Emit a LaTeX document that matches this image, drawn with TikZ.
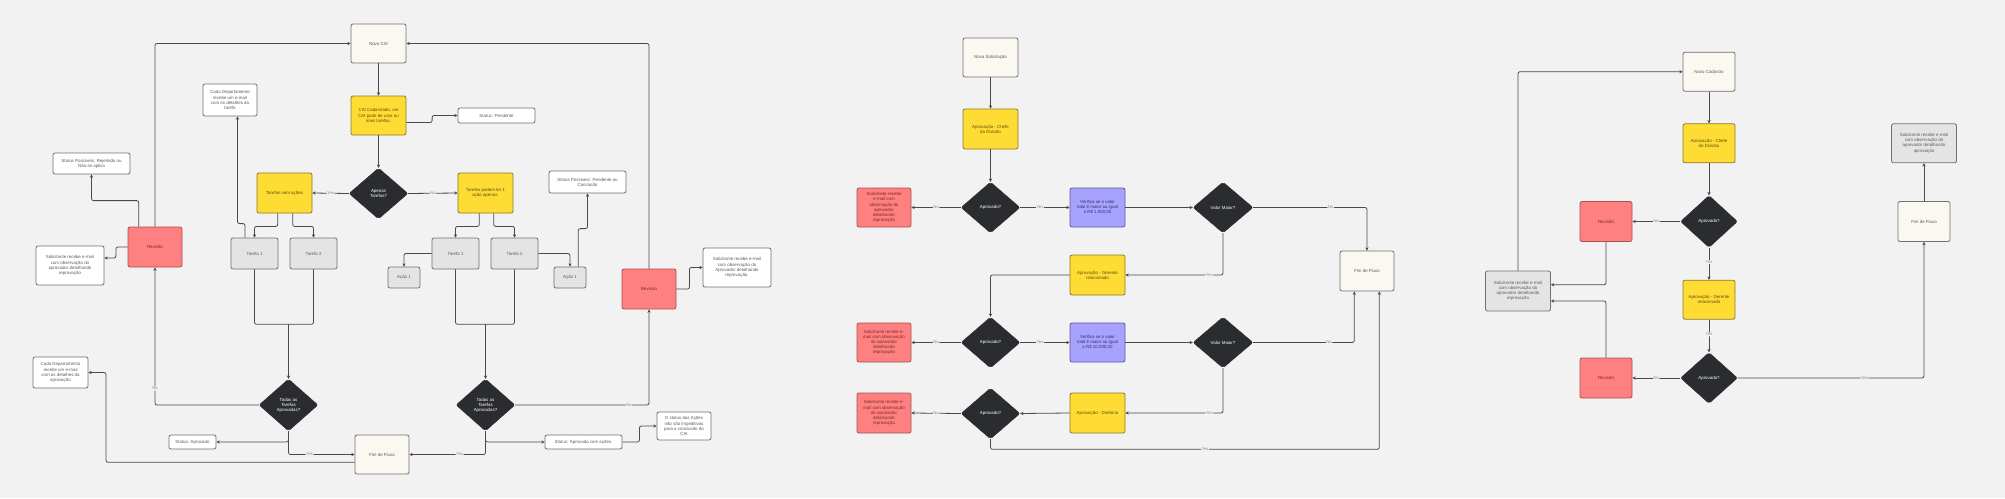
\documentclass[tikz,border=0pt]{standalone}
\usepackage{fontspec}
\setmainfont{Liberation Sans}
\usetikzlibrary{arrows.meta,shapes.geometric}
\definecolor{bg}{HTML}{F2F2F2}
\definecolor{linec}{HTML}{4A4A4A}
\definecolor{bordg}{HTML}{707070}
\definecolor{txtg}{HTML}{5A5A5A}
\definecolor{creamf}{HTML}{FBF8F2}
\definecolor{yelf}{HTML}{FFDC33}
\definecolor{yeld}{HTML}{8C7A2A}
\definecolor{yelt}{HTML}{5C4C10}
\definecolor{redf}{HTML}{FF8080}
\definecolor{redd}{HTML}{A85252}
\definecolor{redt}{HTML}{7A2828}
\definecolor{purf}{HTML}{A8A2FF}
\definecolor{purd}{HTML}{5E58A8}
\definecolor{purt}{HTML}{35306E}
\definecolor{grayf}{HTML}{E4E4E4}
\definecolor{diaf}{HTML}{2B2C30}
\definecolor{labc}{HTML}{8A8A8A}
\newcommand\myfs{\fontsize{4.4}{5.1}\selectfont}
\newcommand\mylabfs{\fontsize{4.2}{5}\selectfont}
\begin{document}
\begin{tikzpicture}[x=1pt,y=-1pt,
  base/.style={draw=bordg, line width=0.8pt, rounded corners=2pt, align=center, inner sep=1pt, font=\myfs, text=txtg},
  cream/.style={base, fill=creamf},
  whiteb/.style={base, fill=white},
  grayb/.style={base, fill=grayf},
  yel/.style={base, fill=yelf, draw=yeld, text=yelt},
  redb/.style={base, fill=redf, draw=redd, text=redt},
  purb/.style={base, fill=purf, draw=purd, text=purt},
  dia/.style={diamond, aspect=1, fill=diaf, draw=diaf, rounded corners=2pt, inner sep=0pt, align=center, font=\myfs, text=white},
  sz/.style 2 args={minimum width=#1pt, minimum height=#2pt},
  line/.style={draw=linec, line width=0.8pt, rounded corners=2pt},
  arr/.style={line, -{Stealth[length=3.3pt,width=3.3pt]}},
  lab/.style={fill=bg, text=labc, inner sep=0.6pt, font=\mylabfs}
]
\fill[bg] (0,0) rectangle (2005,498);
\useasboundingbox (0,0) rectangle (2005,498);

% ---------------- left diagram ----------------
\node[cream, sz={55}{39}] (nc) at (378.5,43.5) {Novo CAI};
\node[yel, sz={55}{39}] (cai) at (378.5,115.5) {CAI Cadastrado, um\\CAI pode ter uma ou\\mais tarefas.};
\node[dia, sz={59}{51}] (d1) at (378.5,193.5) {Apenas\\Tarefas?};
\node[yel, sz={55}{40}] (tsa) at (284.5,193) {Tarefas sem ações};
\node[grayb, sz={47}{31}] (t1l) at (254.5,253.5) {Tarefa 1};
\node[grayb, sz={47}{31}] (t2l) at (313.5,253.5) {Tarefa 2};
\node[whiteb, sz={54}{32}] (cdt) at (230,100) {Cada Departamento\\recebe um e-mail\\com os detalhes da\\tarefa};
\node[whiteb, sz={77}{21}] (spr) at (91.5,163.5) {Status Possíveis: Rejeitado ou\\Não se aplica};
\node[redb, sz={54}{40}] (rvl) at (155,247) {Revisão};
\node[whiteb, sz={68}{39}] (sol1) at (70,265.5) {Solicitante recebe e-mail\\com observação do\\aprovador detalhando\\reprovação};
\node[whiteb, sz={77}{15}] (stp) at (496.5,115.5) {Status: Pendente};
\node[yel, sz={55}{40}] (tpa) at (485.5,193) {Tarefas podem ter 1\\ação apenas.};
\node[grayb, sz={47}{31}] (t1r) at (455.5,253.5) {Tarefa 1};
\node[grayb, sz={47}{31}] (t2r) at (514.5,253.5) {Tarefa 2};
\node[grayb, sz={32}{21}] (a1l) at (404,277.5) {Ação 1};
\node[grayb, sz={32}{21}] (a1r) at (570,277.5) {Ação 1};
\node[whiteb, sz={77}{22}] (spc) at (587.5,182) {Status Possíveis: Pendente ou\\Concluído};
\node[redb, sz={54}{40}] (rvr) at (649,289) {Revisão};
\node[whiteb, sz={68}{39}] (solr) at (737,267.5) {Solicitante recebe e-mail\\com observação do\\Aprovador detalhando\\reprovação.};
\node[dia, sz={59}{52}] (d2l) at (288.5,405) {Todas as\\Tarefas\\Aprovadas?};
\node[dia, sz={59}{52}] (d2r) at (485.5,405) {Todas as\\Tarefas\\Aprovadas?};
\node[whiteb, sz={47}{14}] (sap) at (192.5,442) {Status: Aprovado};
\node[cream, sz={54}{39}] (ffl) at (382,454.5) {Fim de Fluxo};
\node[whiteb, sz={55}{31}] (cdap) at (60.5,372.5) {Cada Departamento\\recebe um e-mail\\com os detalhes da\\aprovação};
\node[whiteb, sz={77}{14}] (sac) at (583.5,442) {Status: Aprovado com ações.};
\node[whiteb, sz={54}{28}] (osd) at (684,426) {O status das Ações\\não são impeditivas\\para a conclusão do\\CAI};
\coordinate (m1) at (288.5,324.3);
\coordinate (m2) at (485.5,324.3);

\draw[arr] (nc.south) -- (cai.north);
\draw[arr] ([yshift=-7pt]cai.east) -- ++(25.7,0) |- (stp.west);
\draw[arr] (cai.south) -- (d1.north);
\draw[arr] (d1.west) -- node[lab]{Yes} (tsa.east);
\draw[arr] (d1.east) -- node[lab]{No} (tpa.west);
\draw[arr] ([xshift=-6.8pt]tsa.south) -- ++(0,13) -| (t1l.north);
\draw[arr] ([xshift=8.2pt]tsa.south) -- ++(0,13) -| (t2l.north);
\draw[arr] ([xshift=-9.5pt]t1l.north) -- ++(0,-14) -| ([xshift=7.5pt]cdt.south);
\draw[arr] ([xshift=-16.3pt]rvl.north) -- ++(0,-26) -| (spr.south);
\draw[arr] (rvl.west) -- ++(-11.7,0) |- ([yshift=7.5pt]sol1.east);
\draw[arr] (rvl.north) |- (nc.west);
\draw[arr] ([xshift=-6.2pt]tpa.south) -- ++(0,13) -| (t1r.north);
\draw[arr] ([xshift=8.2pt]tpa.south) -- ++(0,13) -| (t2r.north);
\draw[arr] (t1r.west) -| (a1l.north);
\draw[arr] (t2r.east) -| (a1r.north);
\draw[arr] ([xshift=8.3pt]a1r.north) -- ++(0,-38) -| (spc.south);
\draw[line] (t1l.south) |- (m1);
\draw[line] (t2l.south) |- (m1);
\draw[arr] (m1) -- (d2l.north);
\draw[line] (t1r.south) |- (m2);
\draw[line] (t2r.south) |- (m2);
\draw[arr] (m2) -- (d2r.north);
\draw[arr] (d2l.west) -| node[lab,pos=0.56]{No} (rvl.south);
\draw[arr] (d2l.south) |- (sap.east);
\draw[arr] (d2l.south) |- node[lab,pos=0.66]{Yes} (ffl.west);
\draw[arr] ([yshift=-7.8pt]ffl.west) -| ([xshift=17.6pt]cdap.east) -- (cdap.east);
\draw[arr] (d2r.east) -| node[lab,pos=0.425]{No} (rvr.south);
\draw[arr] (d2r.south) |- (sac.west);
\draw[arr] (d2r.south) |- node[lab,pos=0.67]{Yes} (ffl.east);
\draw[arr] (sac.east) -- ++(17,0) |- (osd.west);
\draw[arr] (rvr.north) |- (nc.east);
\draw[arr] (rvr.east) -- ++(13,0) |- (solr.west);

% ---------------- middle diagram ----------------
\node[cream, sz={55}{39}] (ns) at (990.5,57.5) {Nova Solicitação};
\node[yel, sz={55}{40}] (cd1) at (990.5,129) {Aprovação - Chefe\\da Divisão};
\node[dia, sz={59}{51}] (ap1) at (990.5,207.5) {Aprovado?};
\node[redb, sz={54}{39}] (r1) at (884,207.5) {Solicitante recebe\\e-mail com\\observação do\\aprovador\\detalhando\\reprovação};
\node[purb, sz={55}{39}] (pu1) at (1097.5,207.5) {Verifica se o valor\\total é maior ou igual\\a R\$ 1.000,00};
\node[dia, sz={60}{51}] (vm1) at (1223,207.5) {Valor Maior?};
\node[yel, sz={55}{40}] (gr) at (1097.5,275) {Aprovação - Gerente\\relacionado};
\node[dia, sz={59}{51}] (ap2) at (990.5,342.5) {Aprovado?};
\node[redb, sz={54}{39}] (r2) at (884,342.5) {Solicitante recebe e-\\mail com observação\\do aprovador\\detalhando\\reprovação};
\node[purb, sz={55}{39}] (pu2) at (1097.5,342.5) {Verifica se o valor\\total é maior ou igual\\a R\$ 10.000,00};
\node[dia, sz={60}{51}] (vm2) at (1223,342.5) {Valor Maior?};
\node[yel, sz={55}{40}] (dir) at (1097.5,413) {Aprovação - Diretoria};
\node[dia, sz={59}{51}] (ap3) at (990.5,413.5) {Aprovado?};
\node[redb, sz={54}{40}] (r3) at (884,413) {Solicitante recebe e-\\mail com observação\\do aprovador\\detalhando\\reprovação};
\node[cream, sz={54}{40}] (ffm) at (1367,271) {Fim de Fluxo};
\coordinate (c3) at (1379.3,449.3);

\draw[arr] (ns.south) -- (cd1.north);
\draw[arr] (cd1.south) -- (ap1.north);
\draw[arr] (ap1.west) -- node[lab]{No} (r1.east);
\draw[arr] (ap1.east) -- node[lab,pos=0.4]{Yes} (pu1.west);
\draw[arr] (pu1.east) -- (vm1.west);
\draw[arr] (vm1.south) |- node[lab,pos=0.57]{Yes} (gr.east);
\draw[arr] (gr.west) -| (ap2.north);
\draw[arr] (ap2.west) -- node[lab]{No} (r2.east);
\draw[arr] (ap2.east) -- node[lab,pos=0.4]{Yes} (pu2.west);
\draw[arr] (pu2.east) -- (vm2.west);
\draw[arr] (vm2.south) |- node[lab,pos=0.57]{Yes} (dir.east);
\draw[arr] (dir.west) -- (ap3.east);
\draw[arr] (ap3.west) -- node[lab]{No} (r3.east);
\draw[arr] (ap3.south) |- node[lab,pos=0.776]{Yes} (c3) -- ([xshift=12.3pt]ffm.south);
\draw[arr] (vm1.east) -| node[lab,pos=0.34]{No} (ffm.north);
\draw[arr] (vm2.east) -| node[lab,pos=0.375]{No} ([xshift=-12.7pt]ffm.south);

% ---------------- right diagram ----------------
\node[cream, sz={52}{39}] (nca) at (1709,71.7) {Novo Cadastro};
\node[yel, sz={52}{39}] (cd2) at (1709,143.3) {Aprovação - Chefe\\da Divisão};
\node[dia, sz={57}{52}] (apr1) at (1709,221.5) {Aprovado?};
\node[redb, sz={52}{40}] (rv1) at (1606,221.5) {Revisão};
\node[grayb, sz={65}{40}] (solg) at (1518,291) {Solicitante recebe e-mail\\com observação do\\aprovador detalhando\\reprovação};
\node[yel, sz={52}{39}] (gr2) at (1709,299.7) {Aprovação - Gerente\\relacionado};
\node[dia, sz={57}{51}] (apr2) at (1709,378) {Aprovado?};
\node[redb, sz={52}{40}] (rv2) at (1606,378) {Revisão};
\node[cream, sz={52}{40}] (ffr) at (1924,221.5) {Fim de Fluxo};
\node[grayb, sz={65}{39}] (sa) at (1924,143.3) {Solicitante recebe e-mail\\com observação do\\aprovador detalhando\\aprovação};

\draw[arr] (nca.south) -- (cd2.north);
\draw[arr] (cd2.south) -- (apr1.north);
\draw[arr] (apr1.west) -- node[lab]{No} (rv1.east);
\draw[arr] (apr1.south) -- node[lab,pos=0.45]{Yes} (gr2.north);
\draw[arr] (gr2.south) -- node[lab,pos=0.45]{Yes} (apr2.north);
\draw[arr] (apr2.west) -- node[lab]{No} (rv2.east);
\draw[arr] (apr2.east) -| node[lab,pos=0.34]{Yes} (ffr.south);
\draw[arr] (ffr.north) -- (sa.south);
\draw[arr] (rv1.south) |- ([yshift=6.3pt]solg.east);
\draw[arr] (rv2.north) |- ([yshift=-10pt]solg.east);
\draw[arr] (solg.north) |- (nca.west);
\end{tikzpicture}
\end{document}
